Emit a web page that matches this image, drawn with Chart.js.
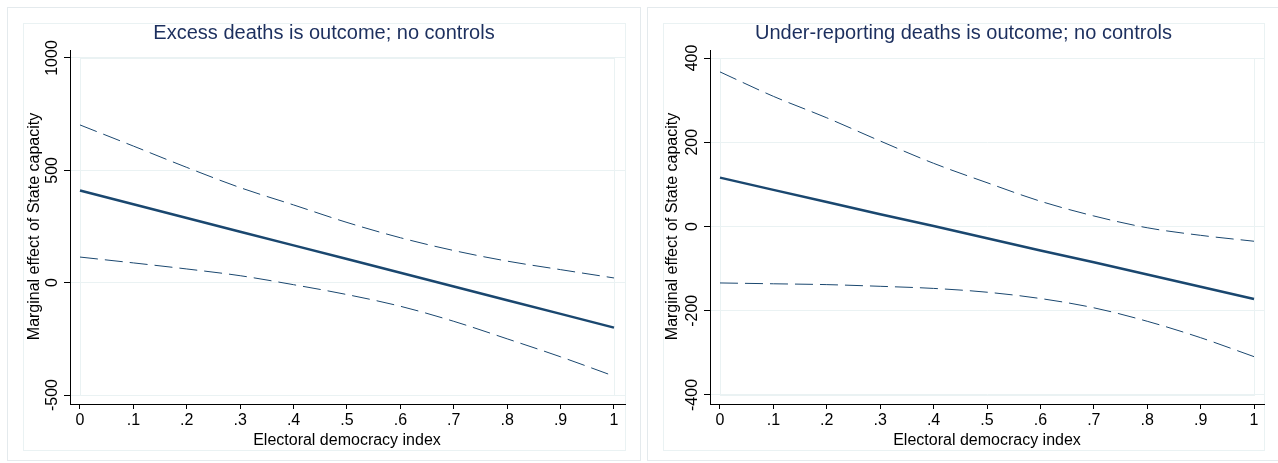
<!DOCTYPE html>
<html>
<head>
<meta charset="utf-8">
<title>Marginal effect of State capacity</title>
<script src="https://cdn.jsdelivr.net/npm/chart.js@4.4.1/dist/chart.umd.min.js"></script>
<style>
  body { margin: 0; background: #fff; width: 1278px; height: 463px; overflow: hidden; position: relative; }
  .panel { position: absolute; top: 0; }
</style>
</head>
<body>
<div class="panel" style="left:0"><canvas id="excessChart" width="644" height="463"></canvas></div>
<div class="panel" style="left:640px"><canvas id="underChart" width="638" height="463"></canvas></div>
<script>
// x values (electoral democracy index) and tick labels
const demIndex = [0, 0.1, 0.2, 0.3, 0.4, 0.5, 0.6, 0.7, 0.8, 0.9, 1];
const xTicks = [0, 0.1, 0.2, 0.3, 0.4, 0.5, 0.6, 0.7, 0.8, 0.9, 1];
const xTickLabels = ['0', '.1', '.2', '.3', '.4', '.5', '.6', '.7', '.8', '.9', '1'];

// Left panel: excess deaths
const excessEffect = [410, 349, 288, 227, 166, 105, 44, -17, -78, -139, -200];
const excessUpper = [702, 608, 513, 423, 346, 268, 200, 143, 96, 58, 21];
const excessLower = [114, 88, 61, 31, -9, -53, -105, -172, -250, -330, -416];
const excessYTicks = [-500, 0, 500, 1000];

// Right panel: under-reporting deaths
const underEffect = [116, 87, 58, 29, 1, -28, -57, -85, -114, -143, -172];
const underUpper = [367, 309, 258, 203, 150, 104, 60, 25, -3, -21, -35];
const underLower = [-134, -136, -138, -142, -147, -156, -171, -193, -225, -264, -309];
const underYTicks = [-400, -200, 0, 200, 400];

const xTitle = 'Electoral democracy index';
const yTitle = 'Marginal effect of State capacity';

const NAVY = '#1a476f';
const GRID = '#eaf2f3';
const FONT = '"Liberation Sans", Arial, sans-serif';

Chart.defaults.font.family = FONT;

// Stata-like frame, title, rotated y labels and axis titles
const stataFrame = {
    id: 'stataFrame',
    beforeDraw(chart, args, opts) {
        const ctx = chart.ctx;
        const { x, y } = chart.scales;
        const area = chart.chartArea;
        ctx.save();
        ctx.lineWidth = 1;
        ctx.strokeStyle = '#e4eaed';
        ctx.strokeRect(7.5, 7.5, 633, 453);
        ctx.strokeStyle = GRID;
        ctx.strokeRect(23.5, 23.5, area.right - 23, 427);
        // plot region outline
        const x0 = Math.round(x.getPixelForValue(xTicks[0]));
        const x1 = Math.round(x.getPixelForValue(xTicks[xTicks.length - 1]));
        const yT = Math.round(y.getPixelForValue(opts.yTicks[opts.yTicks.length - 1]));
        const yB = Math.round(y.getPixelForValue(opts.yTicks[0]));
        ctx.strokeRect(x0 + 0.5, yT + 0.5, x1 - x0, yB - yT);
        ctx.restore();
    },
    afterDraw(chart, args, opts) {
        const ctx = chart.ctx;
        const { x, y } = chart.scales;
        const area = chart.chartArea;
        ctx.save();
        // title
        ctx.font = '20px ' + FONT;
        ctx.fillStyle = '#1c2f5e';
        ctx.textAlign = 'center';
        ctx.textBaseline = 'middle';
        ctx.fillText(opts.title, (23 + area.right) / 2, 33);

        // y tick labels, rotated
        ctx.font = '16px ' + FONT;
        ctx.fillStyle = '#000';
        ctx.textBaseline = 'alphabetic';
        opts.yTicks.forEach(v => {
            ctx.save();
            ctx.translate(area.left - 13, y.getPixelForValue(v));
            ctx.rotate(-Math.PI / 2);
            ctx.fillText(String(v), 0, 0);
            ctx.restore();
        });

        // y axis title
        const yMid = (y.getPixelForValue(opts.yTicks[0]) + y.getPixelForValue(opts.yTicks[opts.yTicks.length - 1])) / 2;
        ctx.save();
        ctx.translate(area.left - opts.yTitleGap, yMid);
        ctx.rotate(-Math.PI / 2);
        ctx.fillText(yTitle, 0, 0);
        ctx.restore();

        // x axis title
        const xMid = (x.getPixelForValue(xTicks[0]) + x.getPixelForValue(xTicks[xTicks.length - 1])) / 2;
        ctx.fillText(xTitle, xMid, 445);
        ctx.restore();
    }
};

function makeDatasets(effect, upper, lower) {
    const pts = vals => demIndex.map((d, i) => ({ x: d, y: vals[i] }));
    const ci = {
        borderColor: NAVY,
        borderWidth: 1,
        borderDash: [18, 7],
        cubicInterpolationMode: 'monotone',
    };
    return [
        { data: pts(upper), ...ci },
        { data: pts(lower), ...ci },
        { data: pts(effect), borderColor: NAVY, borderWidth: 2.5 },
    ];
}

function createChart(id, datasets, cfg) {
    const ctx = document.getElementById(id).getContext('2d');
    return new Chart(ctx, {
        type: 'line',
        data: { datasets: datasets },
        options: {
            responsive: false,
            animation: false,
            devicePixelRatio: 1,
            layout: {
                autoPadding: false,
                padding: { left: 30, right: cfg.padRight, top: 50, bottom: 19 },
            },
            elements: { point: { radius: 0 }, line: { fill: false } },
            plugins: {
                legend: { display: false },
                tooltip: { enabled: false },
                stataFrame: { title: cfg.title, yTicks: cfg.yTicks, yTitleGap: cfg.yTitleGap },
            },
            scales: {
                x: {
                    type: 'linear',
                    bounds: 'data',
                    min: cfg.xMin,
                    max: cfg.xMax,
                    afterBuildTicks: s => { s.ticks = xTicks.map(v => ({ value: v })); },
                    afterFit: s => { s.height = 40; },
                    ticks: {
                        font: { size: 16 },
                        color: '#000',
                        padding: 2,
                        maxRotation: 0,
                        autoSkip: false,
                        callback: (v, i) => xTickLabels[i],
                    },
                    grid: { drawOnChartArea: false, tickColor: '#000', tickLength: 5 },
                    border: { display: true, color: '#000', width: 1 },
                },
                y: {
                    type: 'linear',
                    bounds: 'data',
                    min: cfg.yMin,
                    max: cfg.yMax,
                    afterBuildTicks: s => { s.ticks = cfg.yTicks.map(v => ({ value: v })); },
                    afterFit: s => { s.width = 40; },
                    ticks: { display: false },
                    grid: { color: GRID, tickColor: '#000', tickLength: 6 },
                    border: { display: true, color: '#000', width: 1 },
                },
            },
        },
        plugins: [stataFrame],
    });
}

function initializeCharts() {
    createChart('excessChart', makeDatasets(excessEffect, excessUpper, excessLower), {
        title: 'Excess deaths is outcome; no controls',
        yTicks: excessYTicks,
        xMin: -0.0187, xMax: 1.0206,
        yMin: -540, yMax: 1035.6,
        padRight: 19,
        yTitleGap: 31,
    });
    createChart('underChart', makeDatasets(underEffect, underUpper, underLower), {
        title: 'Under-reporting deaths is outcome; no controls',
        yTicks: underYTicks,
        xMin: -0.0187, xMax: 1.0187,
        yMin: -421.4, yMax: 419,
        padRight: 14,
        yTitleGap: 33,
    });
}

initializeCharts();
</script>
</body>
</html>
